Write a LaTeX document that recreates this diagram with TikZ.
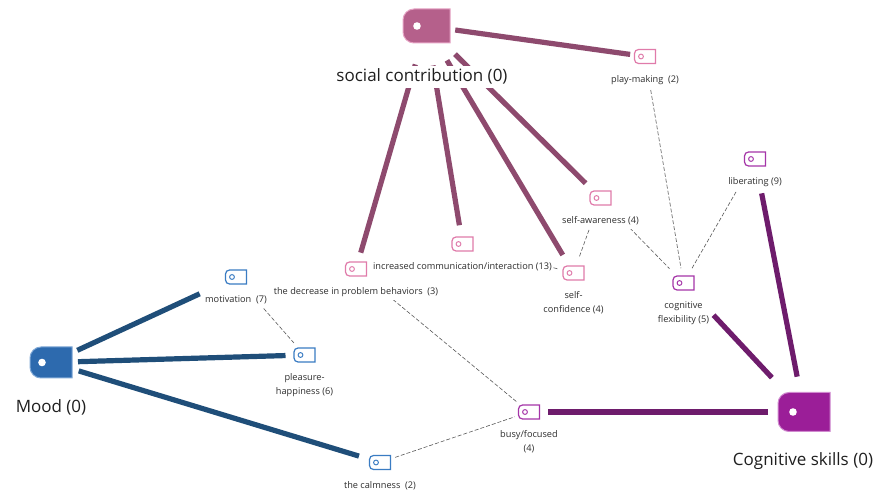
\documentclass[tikz,border=0pt]{standalone}
\usepackage{fontspec}
\setmainfont{Open Sans}
\usetikzlibrary{calc}
\pgfdeclarelayer{bgfill}
\pgfdeclarelayer{edges}
\pgfsetlayers{bgfill,edges,main}
\definecolor{socfill}{HTML}{B5608B}
\definecolor{socborder}{HTML}{E6A3C4}
\definecolor{socedgec}{HTML}{8E4A6E}
\definecolor{socsmall}{HTML}{E07BAA}
\definecolor{moodfill}{HTML}{2D6AAE}
\definecolor{moodborder}{HTML}{7FA8D6}
\definecolor{moodedgec}{HTML}{1F4E79}
\definecolor{moodsmall}{HTML}{3A7CC3}
\definecolor{cogfill}{HTML}{9B1E98}
\definecolor{cogborder}{HTML}{D08ACF}
\definecolor{cogedgec}{HTML}{6E1C6C}
\definecolor{cogsmall}{HTML}{A535A8}
\definecolor{lblgray}{HTML}{2E2E2E}
\definecolor{dashgray}{HTML}{5A5A5A}
\newcommand\smalltag[4]{%
  \node[minimum width=21pt,minimum height=14pt,inner sep=0pt,outer sep=0pt] (#1) at (#2,#3) {};
  \draw[draw=#4,line width=1.2pt,fill=white] ([xshift=4pt]#1.north west) arc[start angle=90,end angle=180,radius=4pt] -- ([yshift=4pt]#1.south west) arc[start angle=180,end angle=270,radius=4pt] -- (#1.south east) -- (#1.north east) -- cycle;
  \draw[draw=#4,line width=1pt] ([xshift=6.5pt]#1.west) circle[radius=2.4pt];
}
\newcommand\bigtag[8]{%
  \node[minimum width=#4pt,minimum height=#5pt,inner sep=0pt,outer sep=0pt] (#1) at (#2,#3) {};
  \draw[draw=#7,fill=#6,line width=1pt] ([xshift=11pt]#1.north west) arc[start angle=90,end angle=180,radius=11pt] -- ([yshift=11pt]#1.south west) arc[start angle=180,end angle=270,radius=11pt] -- (#1.south east) -- (#1.north east) -- cycle;
  \fill[white] ([xshift=#8pt]#1.west) circle[radius=3.8pt];
}
\tikzset{
  lbl/.style={font=\fontsize{9.2}{14}\selectfont, text=lblgray, fill=white, inner sep=1pt, align=center, anchor=north},
  biglbl/.style={font=\fontsize{17}{20}\selectfont, text=black!88, fill=white, inner sep=3pt, anchor=base},
  socedge/.style={draw=socedgec, line width=5.2pt},
  moodedge/.style={draw=moodedgec, line width=5.2pt},
  cogedge/.style={draw=cogedgec, line width=5.2pt},
  dashedge/.style={draw=dashgray, line width=0.6pt, dash pattern=on 4pt off 2pt}
}
\begin{document}
\begin{tikzpicture}[x=1pt,y=1pt]
\begin{pgfonlayer}{bgfill}
\fill[white] (0,0) rectangle (876,490);
\end{pgfonlayer}
\useasboundingbox (0,0) rectangle (876,490);
% big tags
\bigtag{soc}{426.5}{464}{47}{34}{socfill}{socborder}{14}
\bigtag{mood}{51}{127.5}{42}{31}{moodfill}{moodborder}{12}
\bigtag{cog}{804}{78}{52}{39}{cogfill}{cogborder}{15}
% small tags
\smalltag{play}{645}{433.5}{socsmall}
\smalltag{saw}{600.5}{292}{socsmall}
\smalltag{scf}{573.5}{217}{socsmall}
\smalltag{inc}{462.5}{246}{socsmall}
\smalltag{dec}{356}{221}{socsmall}
\smalltag{lib}{755}{331}{cogsmall}
\smalltag{cfx}{683.5}{207}{cogsmall}
\smalltag{busy}{529}{78}{cogsmall}
\smalltag{mot}{236}{213}{moodsmall}
\smalltag{ple}{304.5}{135}{moodsmall}
\smalltag{calm}{380}{27.5}{moodsmall}
% labels
\node[biglbl] (socl) at (422,408) {social contribution (0)};
\node[biglbl] (moodl) at (51,77) {Mood (0)};
\node[biglbl] (cogl) at (803,24) {Cognitive skills (0)};
\node[lbl] (playl) at ([yshift=-14.7pt]play.center) {\strut play-making\ \ (2)};
\node[lbl] (sawl) at ([yshift=-14.7pt]saw.center) {\strut self-awareness (4)};
\node[lbl] (scfl) at ([yshift=-14.7pt]scf.center) {\strut self-\\confidence (4)};
\node[lbl] (incl) at ([yshift=-14.7pt]inc.center) {\strut increased communication/interaction (13)};
\node[lbl] (decl) at ([yshift=-14.7pt]dec.center) {\strut the decrease in problem behaviors\ \ (3)};
\node[lbl] (libl) at ([yshift=-14.7pt]lib.center) {\strut liberating (9)};
\node[lbl] (cfxl) at ([yshift=-14.7pt]cfx.center) {\strut cognitive\\flexibility (5)};
\node[lbl] (busyl) at ([yshift=-14.7pt]busy.center) {\strut busy/focused\\(4)};
\node[lbl] (motl) at ([yshift=-14.7pt]mot.center) {\strut motivation\ \ (7)};
\node[lbl] (plel) at ([yshift=-14.7pt]ple.center) {\strut pleasure-\\happiness (6)};
\node[lbl] (calml) at ([yshift=-14.7pt]calm.center) {\strut the calmness\ \ (2)};
% edges
\begin{pgfonlayer}{edges}
\draw[socedge, shorten <=29pt, shorten >=15pt] (soc.center) -- (play.center);
\draw[socedge, shorten <=40pt, shorten >=17pt] (soc.center) -- (dec.center);
\draw[socedge, shorten <=40pt, shorten >=19pt] (soc.center) -- (inc.center);
\draw[socedge, shorten <=40pt, shorten >=21pt] (soc.center) -- (scf.center);
\draw[socedge, shorten <=40pt, shorten >=21pt] (soc.center) -- (saw.center);
\draw[moodedge, shorten <=29pt, shorten >=40pt] (mood.center) -- (mot.center);
\draw[moodedge, shorten <=27pt, shorten >=19pt] (mood.center) -- (ple.center);
\draw[moodedge, shorten <=29pt, shorten >=22pt] (mood.center) -- (calm.center);
\draw[cogedge, shorten <=36pt, shorten >=19pt] (cog.center) -- (busy.center);
\draw[cogedge, shorten <=47pt, shorten >=44pt] (cog.center) -- (cfx.center);
\draw[cogedge, shorten <=36pt, shorten >=35pt] (cog.center) -- (lib.center);
\draw[dashedge, shorten <=34pt, shorten >=15pt] (play.center) -- (cfx.center);
\draw[dashedge, shorten <=38pt, shorten >=16pt] (lib.center) -- (cfx.center);
\draw[dashedge, shorten <=42pt, shorten >=20pt] (saw.center) -- (cfx.center);
\draw[dashedge, shorten <=34pt, shorten >=16pt] (saw.center) -- (scf.center);
\draw[dashedge, shorten <=94pt, shorten >=15pt] (inc.center) -- (scf.center);
\draw[dashedge, shorten <=42pt, shorten >=16pt] (mot.center) -- (ple.center);
\draw[dashedge, shorten <=48pt, shorten >=16pt] (dec.center) -- (busy.center);
\draw[dashedge, shorten <=16pt, shorten >=15pt] (calm.center) -- (busy.center);
\end{pgfonlayer}
\end{tikzpicture}
\end{document}
